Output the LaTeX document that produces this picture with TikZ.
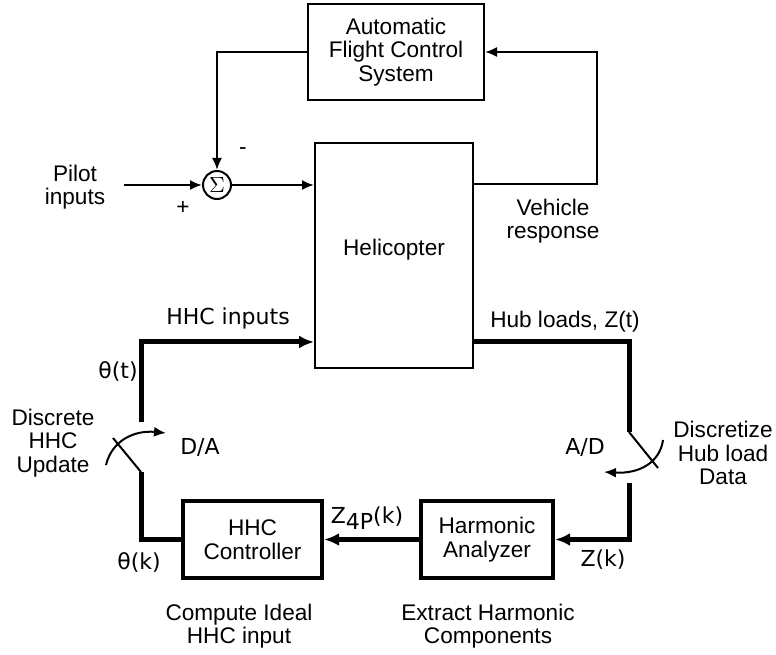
\documentclass[tikz,border=0pt]{standalone}
\usepackage{fontspec}
\setmainfont{Liberation Sans}
\newfontfamily\genevafont{DejaVu Sans}
\usetikzlibrary{arrows.meta,positioning}

\tikzset{
  block/.style={draw, line width=1pt, inner sep=0pt, align=center},
  heavyblock/.style={draw, line width=2.2pt, inner sep=0pt, align=center,
    minimum width=68pt, minimum height=38.5pt},
  sig/.style={line width=1pt},
  heavysig/.style={line width=2.5pt, >={Latex[length=7.5pt,width=6.5pt]}},
  lbl/.style={inner sep=0pt, align=center},
  glbl/.style={inner sep=0pt, align=center, font=\genevafont\fontsize{11}{12}\selectfont}
}

\begin{document}
\begin{tikzpicture}[x=0.5pt, y=0.5pt, >={Latex[length=6pt,width=5pt]},
    font=\fontsize{11.3}{11.75}\selectfont]
  \useasboundingbox (0,0) rectangle (776,654);

  % blocks
  \node[block, minimum width=88pt, minimum height=48pt] (afcs) at (396,602)
    {Automatic\\Flight Control\\System};
  \node[draw, circle, line width=1pt, minimum size=14pt, inner sep=0pt] (sum) at (217,469) {$\Sigma$};
  \node[block, minimum width=79pt, minimum height=112.5pt] (heli) at (394,398.5) {};
  \node[lbl] at (394,404) {Helicopter};
  \node[heavyblock, minimum width=69.5pt] (hhc)  at (252.5,114.5) {HHC\\Controller};
  \node[heavyblock, minimum width=66pt]   (harm) at (487,114.5)   {Harmonic\\Analyzer};

  % points on the loops
  \coordinate (pilot)  at (124,469);
  \coordinate (vr)     at (597,470);
  \coordinate (hhcin)  at (141,312);
  \coordinate (da2)    at (141,232);
  \coordinate (da1)    at (141,182);
  \coordinate (hubout) at (629,312);
  \coordinate (ad1)    at (629,222);
  \coordinate (ad2)    at (629,171);

  % flight control loop
  \draw[sig, ->] (pilot) -- (sum);
  \draw[sig, ->] (afcs.west) -| (sum.north);
  \draw[sig, ->] (sum.east) -- (sum.east -| heli.west);
  \draw[sig, ->] (heli.east |- vr) -- (vr) |- (afcs.east);

  % HHC loop
  \draw[heavysig, ->] (da2) -- (hhcin) -- (hhcin -| heli.west);
  \draw[heavysig] (hubout -| heli.east) -- (hubout) -- (ad1);
  \draw[heavysig, ->] (ad2) |- (harm.east);
  \draw[heavysig, ->] (harm.west) -- (hhc.east);
  \draw[heavysig] (hhc.west) -| (da1);

  % switches
  \draw[sig] (da1) -- ++(-28,34);
  \draw[sig, ->] (106,189) .. controls (112,214) and (135,224) .. (166,221);
  \draw[sig] (ad1) -- ++(29,-36);
  \draw[sig, ->] (663,214) .. controls (660,192) and (640,180) .. (604,182);

  % labels
  \node[lbl] at (75,467) {Pilot\\inputs};
  \node[lbl] at (243,503) {-};
  \node[lbl] at (183,446) {+};
  \node[lbl] at (553,433) {Vehicle\\response};
  \node[glbl] at (228,336) {HHC inputs};
  \node[lbl] at (565,332) {Hub loads, Z(t)};
  \node[glbl] at (118,282) {θ(t)};
  \node[glbl] at (200,207) {D/A};
  \node[glbl] at (585,207) {A/D};
  \node[lbl] at (53,211) {Discrete\\HHC\\Update};
  \node[lbl] at (723,201) {Discretize\\Hub load\\Data};
  \node[glbl] at (367,136) {Z\raisebox{-0.55ex}{4P}(k)};
  \node[glbl] at (139,91) {θ(k)};
  \node[glbl] at (603,94) {Z(k)};
  \node[lbl] at (239,28) {Compute Ideal\\HHC input};
  \node[lbl] at (488,28) {Extract Harmonic\\Components};
\end{tikzpicture}
\end{document}
